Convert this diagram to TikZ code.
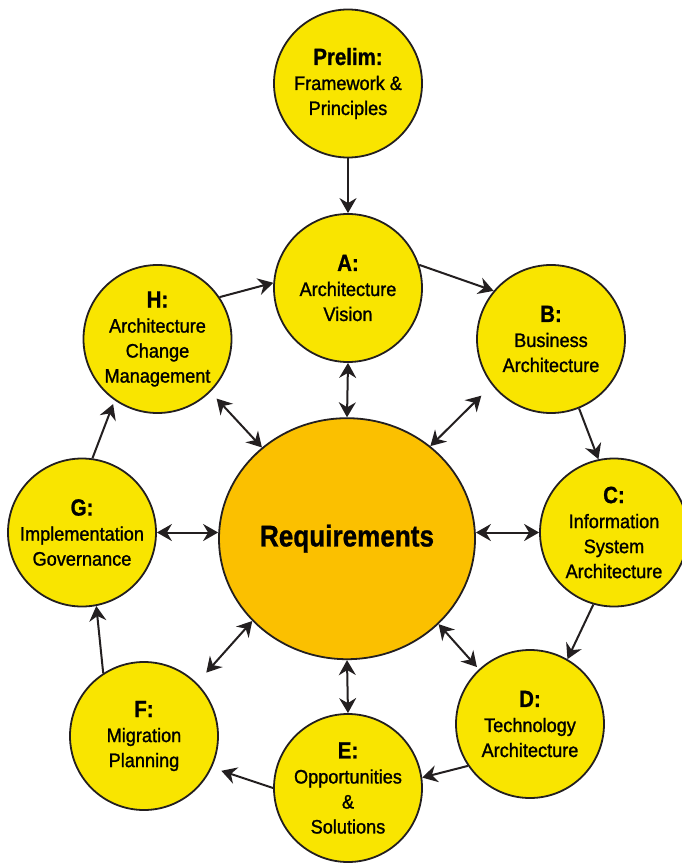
\documentclass[tikz,border=0pt]{standalone}
\usepackage{fontspec}
\setmainfont{Liberation Sans}[FakeStretch=0.93,FakeBold=1.2,BoldFeatures={FakeStretch=0.87,FakeBold=0.9}]
\usetikzlibrary{shapes.geometric,arrows.meta,calc}
\definecolor{ink}{HTML}{231F20}
\definecolor{phase}{HTML}{F9E500}
\definecolor{reqfill}{HTML}{FBC000}
\newcommand{\phaselab}[1]{{\fontsize{23.5}{26}\selectfont\bfseries #1}}
\begin{document}
\begin{tikzpicture}[x=1pt,y=-1pt,
  phasebox/.style={circle,draw=ink,line width=1.8pt,fill=phase,minimum size=148pt,inner sep=0pt,align=center,font=\fontsize{19.5}{25}\selectfont,text=black},
  reqbox/.style={ellipse,draw=ink,line width=1.8pt,fill=reqfill,minimum width=256pt,minimum height=241pt,inner sep=0pt,font=\fontsize{30}{34}\selectfont\bfseries,text=black},
  onetip/.style={line width=2pt,draw=ink,-{Stealth[length=15pt,width=17pt,inset=5pt]}},
  twotip/.style={line width=2pt,draw=ink,{Stealth[length=15pt,width=17pt,inset=5pt]}-{Stealth[length=15pt,width=17pt,inset=5pt]}}]
\useasboundingbox (0,0) rectangle (682,864);

\node[phasebox] (P) at (348,83.5) {\phaselab{Prelim:}\\Framework \&\\Principles};
\node[phasebox] (A) at (348,288) {\phaselab{A:}\\Architecture\\Vision};
\node[phasebox] (B) at (551,339) {\phaselab{B:}\\Business\\Architecture};
\node[phasebox] (C) at (614,532.5) {\phaselab{C:}\\Information\\System\\Architecture};
\node[phasebox] (D) at (530,724) {\phaselab{D:}\\Technology\\Architecture};
\node[phasebox] (E) at (348,788) {\phaselab{E:}\\Opportunities\\\&\\Solutions};
\node[phasebox] (F) at (144,736) {\phaselab{F:}\\Migration\\Planning};
\node[phasebox] (G) at (82,532.5) {\phaselab{G:}\\Implementation\\Governance};
\node[phasebox] (H) at (157.5,339) {\phaselab{H:}\\Architecture\\Change\\Management};
\node[reqbox] (R) at (347,538.7) {Requirements};

\draw[onetip] (P.270) -- (A.90);
\draw[onetip] (A.18) -- (B.140);
\draw[onetip] (B.292) -- (C.102);
\draw[onetip] (C.254) -- (D.60);
\draw[onetip] (D.214) -- (E.8);
\draw[onetip,shorten >=10pt] (E.180) -- (F.335);
\draw[onetip] (F.123) -- (G.281);
\draw[onetip,shorten >=4pt] (G.82) -- (H.235);
\draw[onetip] (H.34) -- (A.176);

\draw[twotip] (R.90) -- (A.270);
\draw[twotip,shorten >=15pt] (R.48) -- (B.218);
\draw[twotip] (R.east |- C.west) -- (C.west);
\draw[twotip,shorten >=3pt] (R.317) -- (D.133);
\draw[twotip] (R.270) -- (E.90);
\draw[twotip,shorten >=14pt] (R.221.5) -- (F.45);
\draw[twotip] (G.east) -- (R.west |- G.east);
\draw[twotip,shorten >=9pt] (R.133) -- (H.315);
\end{tikzpicture}
\end{document}
